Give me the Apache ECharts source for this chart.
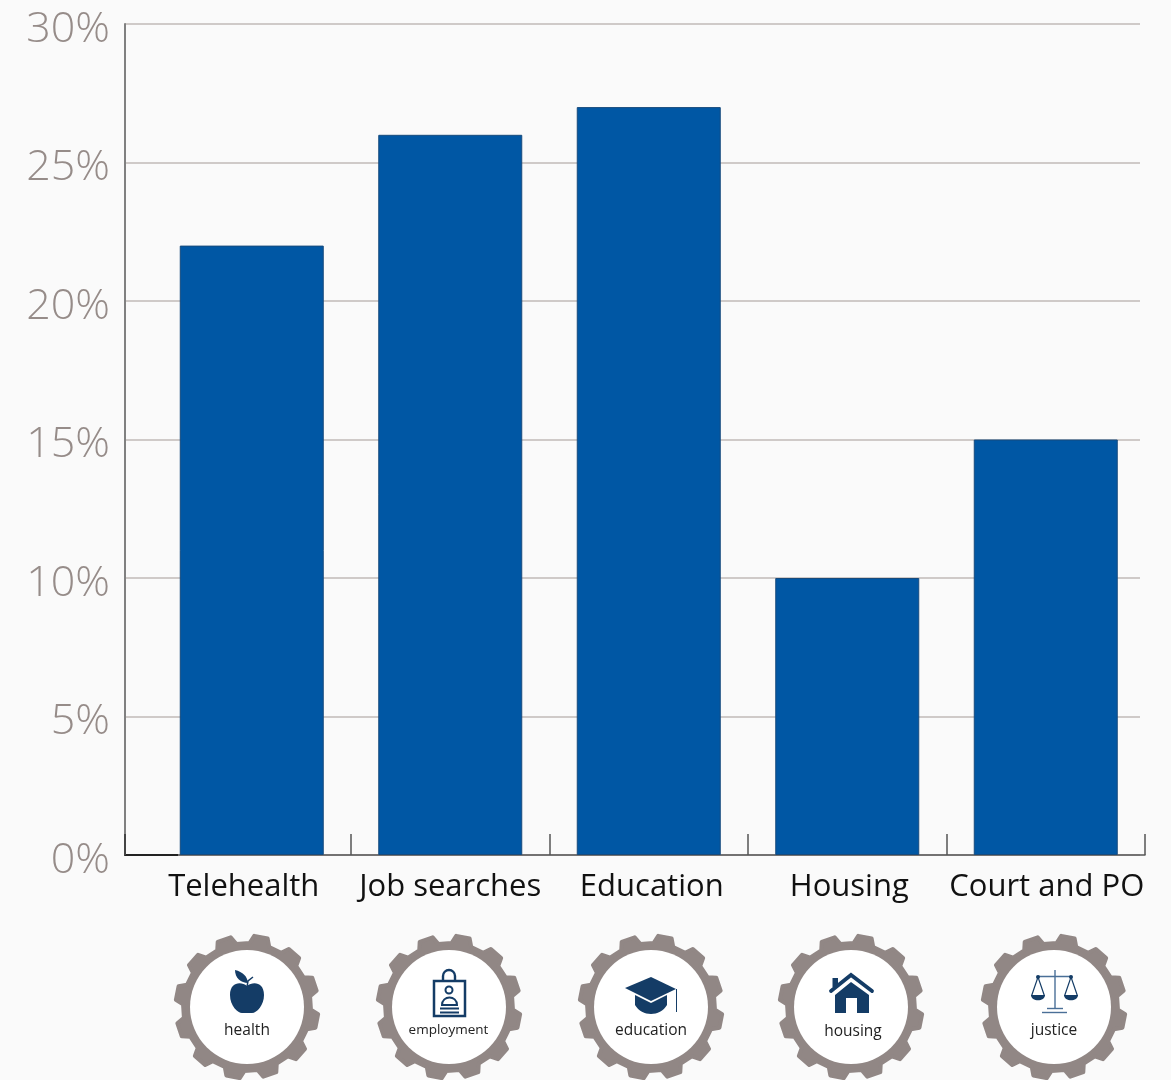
<!DOCTYPE html>
<html>
<head>
<meta charset="utf-8">
<style>
  html, body { margin: 0; background: #fafafa; }
  #chart { width: 1171px; height: 1080px; }
</style>
<script src="https://cdn.jsdelivr.net/npm/echarts@6/dist/echarts.min.js"></script>
</head>
<body>
<div id="chart"></div>
<script>
const categories = ['Telehealth', 'Job searches', 'Education', 'Housing', 'Court and PO']
const shares = [22, 26, 27, 10, 15]
const iconLabels = ['health', 'employment', 'education', 'housing', 'justice']

const NAVY = '#143c66'
const GEAR = '#918785'
const GEAR_Y = 1007
const gearX = [247, 449, 651, 851, 1054]
const iconLabelY = [1031, 1030, 1031, 1032, 1031]
// the category labels don't sit exactly under the bars in the original
const labelShift = [-8, 0, 3, 2, 1]

// graphic has no plain svg path type, so every path gets registered as a shape
let pathCount = 0
function pathEl(d, style) {
  const name = 'iconPath' + pathCount++
  echarts.graphic.registerShape(name, echarts.graphic.extendPath(d, {}))
  return { type: name, style }
}

function gearElements(cx) {
  const pts = []
  const rad = (d) => (d * Math.PI) / 180
  for (let i = 0; i < 12; i++) {
    const a = 11.3 + i * 30 - 90
    ;[[-9, 64], [-5.5, 71.5], [5.5, 71.5], [9, 64]].forEach(([da, r]) => {
      pts.push([cx + r * Math.cos(rad(a + da)), GEAR_Y + r * Math.sin(rad(a + da))])
    })
  }
  return [
    { type: 'polygon', shape: { points: pts }, style: { fill: GEAR, stroke: GEAR, lineWidth: 4, lineJoin: 'round' } },
    { type: 'circle', shape: { cx, cy: GEAR_Y, r: 57 }, style: { fill: '#fff' } }
  ]
}

const navyFill = { fill: NAVY }
const navyLine = (w) => ({ fill: 'none', stroke: NAVY, lineWidth: w })

function apple() {
  return [
    pathEl('M247 986 C241 981 230 982 230 995 C230 1006 238 1013 242 1013 C245 1013 249 1013 252 1013 C257 1013 264 1005 264 995 C264 982 253 981 247 986 Z', navyFill),
    pathEl('M235 970 C243 972 247 976 248 983 C241 983 235 978 235 970 Z', navyFill),
    { type: 'polyline', shape: { points: [[247, 987], [248, 981], [253, 977]] }, style: navyLine(1.5) }
  ]
}

function badge() {
  return [
    { type: 'rect', shape: { x: 434, y: 981, width: 31, height: 35 }, style: navyLine(2.5) },
    pathEl('M443 981 L443 976 A6 6 0 0 1 455 976 L455 981', navyLine(2.4)),
    { type: 'circle', shape: { cx: 449, cy: 990, r: 3.5 }, style: navyLine(2) },
    pathEl('M442 1005 C442 995 457 995 457 1005 Z', navyLine(2)),
    { type: 'line', shape: { x1: 440, y1: 1008.5, x2: 459, y2: 1008.5 }, style: { stroke: NAVY, lineWidth: 2 } },
    { type: 'line', shape: { x1: 440, y1: 1012.5, x2: 459, y2: 1012.5 }, style: { stroke: NAVY, lineWidth: 2 } }
  ]
}

function cap() {
  return [
    { type: 'polygon', shape: { points: [[625, 988], [651, 977], [676, 989], [651, 1001]] }, style: navyFill },
    pathEl('M635 995 L651 1003 L667 995 L667 1005 C660 1017 642 1017 635 1005 Z', navyFill),
    { type: 'line', shape: { x1: 676.5, y1: 989, x2: 676.5, y2: 1012 }, style: { stroke: NAVY, lineWidth: 1 } }
  ]
}

function house() {
  return [
    { type: 'polygon', shape: { points: [[851, 982], [869, 995], [869, 1013], [857, 1013], [857, 998], [846, 998], [846, 1013], [835, 1013], [835, 995]] }, style: navyFill },
    { type: 'rect', shape: { x: 832.5, y: 978, width: 5.5, height: 9 }, style: navyFill },
    { type: 'polyline', shape: { points: [[831, 991], [851, 975], [872, 991]] }, style: { fill: 'none', stroke: NAVY, lineWidth: 3.8, lineCap: 'round' } }
  ]
}

function scales() {
  const thin = { stroke: '#4a6f97', lineWidth: 1.4 }
  const pan = (x) => [
    { type: 'polyline', shape: { points: [[x - 6.5, 996], [x, 977], [x + 6.5, 996]] }, style: { fill: 'none', stroke: NAVY, lineWidth: 1.2 } },
    pathEl(`M${x - 7} 995 L${x + 7} 995 C${x + 7} 1002 ${x - 7} 1002 ${x - 7} 995 Z`, navyFill),
    { type: 'circle', shape: { cx: x, cy: 977, r: 2 }, style: navyFill }
  ]
  return [
    { type: 'line', shape: { x1: 1055, y1: 970, x2: 1055, y2: 1008 }, style: thin },
    { type: 'line', shape: { x1: 1038, y1: 976.5, x2: 1071, y2: 976.5 }, style: thin },
    { type: 'line', shape: { x1: 1047, y1: 1008.5, x2: 1063, y2: 1008.5 }, style: thin },
    { type: 'line', shape: { x1: 1042, y1: 1012.5, x2: 1067, y2: 1012.5 }, style: thin },
    ...pan(1038),
    ...pan(1071)
  ]
}

const icons = [apple, badge, cap, house, scales]

const graphics = []
gearX.forEach((cx, i) => {
  graphics.push(...gearElements(cx), ...icons[i]())
  graphics.push({
    type: 'text',
    style: {
      x: i === 1 ? 448.5 : cx + (i === 3 ? 2 : 0),
      y: iconLabelY[i],
      text: iconLabels[i],
      align: 'center',
      verticalAlign: 'middle',
      fill: '#222',
      font: (i === 1 ? 13.5 : 15.5) + 'px "Open Sans"'
    }
  })
})

const chart = echarts.init(document.getElementById('chart'), null, { renderer: 'canvas' })
chart.setOption({
  animation: false,
  backgroundColor: '#fafafa',
  grid: [
    { left: 125, top: 24, width: 1015, height: 831 },
    { left: 152.5, top: 24, width: 992.5, height: 831 }
  ],
  xAxis: [
    {
      // only there for the black stub of baseline and the tick on the left
      type: 'value',
      gridIndex: 0,
      z: 3,
      min: 0,
      max: 1,
      axisLine: {
        show: true,
        lineStyle: {
          width: 2,
          color: {
            type: 'linear',
            global: true,
            x: 125,
            y: 0,
            x2: 1140,
            y2: 0,
            colorStops: [
              { offset: 0, color: '#222' },
              { offset: 0.0525, color: '#222' },
              { offset: 0.0525, color: 'rgba(0,0,0,0)' },
              { offset: 1, color: 'rgba(0,0,0,0)' }
            ]
          }
        }
      },
      axisTick: { show: true, inside: true, length: 21, customValues: [0], lineStyle: { color: '#444', width: 2 } },
      axisLabel: { show: false },
      splitLine: { show: false }
    },
    {
      type: 'category',
      gridIndex: 1,
      position: 'bottom',
      data: categories.map((c, i) => ({
        value: c,
        textStyle: { padding: labelShift[i] < 0 ? [0, -2 * labelShift[i], 0, 0] : [0, 0, 0, 2 * labelShift[i]] }
      })),
      axisLine: { show: true, lineStyle: { color: '#555', width: 1.5 } },
      axisTick: { show: false },
      axisLabel: { margin: 17, color: '#111', fontFamily: 'Open Sans', fontSize: 31, interval: 0 },
      splitLine: { show: false }
    },
    {
      // the category axis would put a tick at the start of the first band, the original has none
      type: 'value',
      gridIndex: 1,
      position: 'bottom',
      min: 0,
      max: 5,
      axisLine: { show: false },
      axisTick: { show: true, inside: true, length: 21, customValues: [1, 2, 3, 4, 5], lineStyle: { color: '#555', width: 1.5 } },
      axisLabel: { show: false },
      splitLine: { show: false }
    }
  ],
  yAxis: [
    {
      type: 'value',
      gridIndex: 0,
      min: 0,
      max: 30,
      interval: 5,
      axisLine: { show: true, lineStyle: { color: '#808080', width: 2 } },
      axisTick: { show: false },
      axisLabel: {
        formatter: '{value}%',
        margin: 15,
        color: '#968c89',
        fontFamily: 'Open Sans',
        fontWeight: 300,
        fontSize: 43,
        verticalAlign: 'top',
        lineHeight: 11
      },
      splitLine: { show: true, lineStyle: { color: '#cfcac8', width: 2 } }
    },
    { type: 'value', gridIndex: 1, min: 0, max: 30, show: false, splitLine: { show: false } }
  ],
  series: [
    {
      type: 'bar',
      xAxisIndex: 1,
      yAxisIndex: 1,
      data: shares,
      barWidth: 144,
      itemStyle: { color: '#0057a4', borderColor: '#174a7c', borderWidth: 1 }
    }
  ],
  graphic: { elements: graphics }
})
</script>
</body>
</html>
